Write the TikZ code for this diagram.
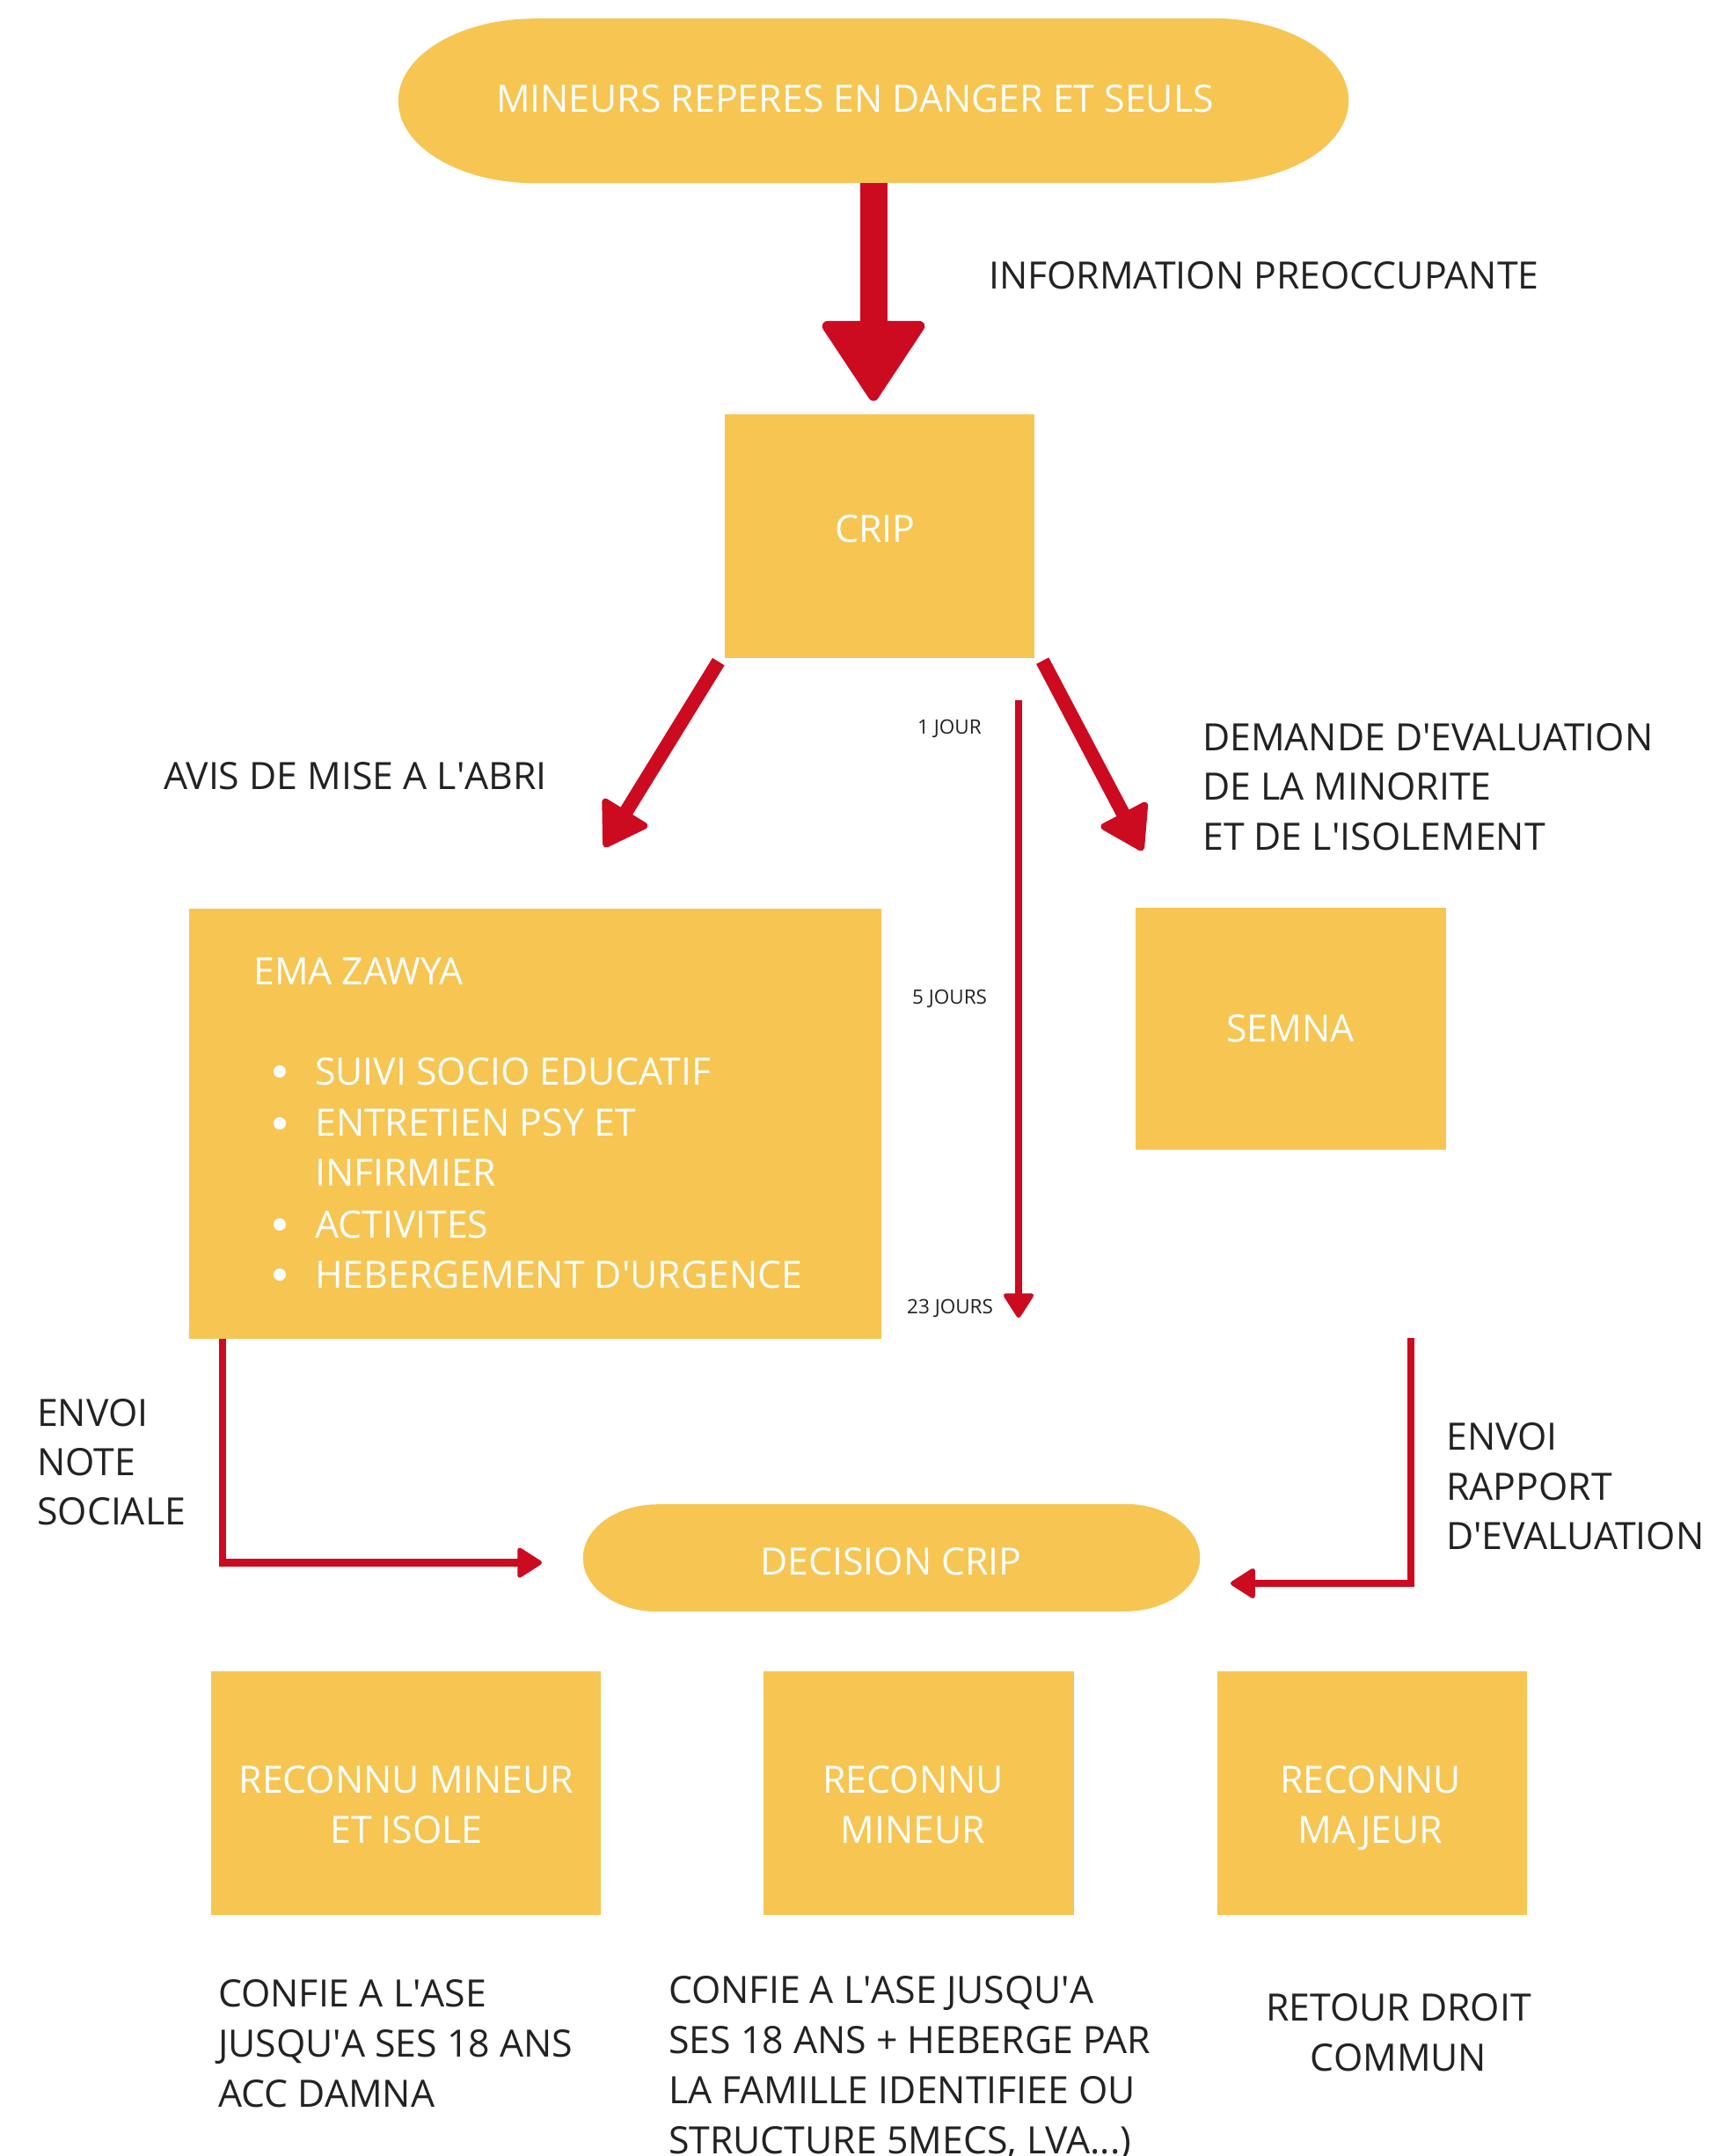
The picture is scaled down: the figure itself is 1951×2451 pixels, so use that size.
\documentclass[tikz,border=0pt]{standalone}
\usepackage{fontspec}
\setmainfont{Open Sans}
\usetikzlibrary{arrows.meta,calc}
\definecolor{yel}{HTML}{F6C552}
\definecolor{rd}{HTML}{CC0A20}
\definecolor{txt}{HTML}{222222}
\newcommand\apos{\textquotesingle}
\newcommand\stadfill[3]{% name, x radius, y radius
  \fill[yel] ([xshift=#2pt]#1.north west) -- ([xshift=-#2pt]#1.north east)
    arc[start angle=90,end angle=-90,x radius=#2pt,y radius=#3pt]
    -- ([xshift=#2pt]#1.south west)
    arc[start angle=270,end angle=90,x radius=#2pt,y radius=#3pt] -- cycle;}
\begin{document}
\begin{tikzpicture}[x=1pt,y=1pt,
  box/.style={fill=yel,draw=none,inner sep=0pt},
  stad/.style={draw=none,inner sep=0pt},
  wt/.style={text=white,font=\fontsize{42.8}{50}\selectfont,inner sep=0pt},
  dk/.style={text=txt,font=\fontsize{42.8}{50}\selectfont,inner sep=0pt},
  sm/.style={text=txt,font=\fontsize{22.5}{27}\selectfont,inner sep=0pt},
  bul/.style={circle,fill=white,draw=none,inner sep=0pt,minimum size=14pt},
  bigarrow/.style={draw=rd,line width=31pt,-{Triangle[length=96pt,width=124pt,round,line width=12pt]}},
  medarrow/.style={draw=rd,line width=16pt,-{Triangle[length=52pt,width=64pt,round,line width=8pt]}},
  thinarrow/.style={draw=rd,line width=8.5pt,-{Triangle[length=30pt,width=37pt,round,line width=5pt]}}
]
\useasboundingbox (0,0) rectangle (1951,-2451);
\fill[white] (0,0) rectangle (1951,-2451);

% ---- shapes
\node[stad,minimum width=1080pt,minimum height=187pt] (mineurs) at (993,-114.5) {};
\stadfill{mineurs}{155}{93.5}
\node[box,minimum width=352pt,minimum height=277pt] (crip) at (1000,-609.5) {};
\node[box,minimum width=787pt,minimum height=489pt] (ema) at (608.5,-1277.5) {};
\node[box,minimum width=353pt,minimum height=275pt] (semna) at (1467.5,-1169.5) {};
\node[stad,minimum width=701pt,minimum height=122pt] (decision) at (1013.5,-1771) {};
\stadfill{decision}{85}{61}
\node[box,minimum width=443pt,minimum height=277pt] (b1) at (461.5,-2038.5) {};
\node[box,minimum width=353pt,minimum height=277pt] (b2) at (1044.5,-2038.5) {};
\node[box,minimum width=352pt,minimum height=277pt] (b3) at (1560,-2038.5) {};

% ---- texts
\node[wt,anchor=base] (tmineurs) at (972,-128) {MINEURS REPERES EN DANGER ET SEULS};
\node[dk,anchor=base west] (tinfo) at (1124,-328) {INFORMATION PREOCCUPANTE};
\node[wt,anchor=base] (tcrip) at (995,-616) {CRIP};
\node[dk,anchor=base west] (tavis) at (186,-897) {AVIS DE MISE A L\apos ABRI};
\node[dk,anchor=base west] (tdem1) at (1367,-853) {DEMANDE D\apos EVALUATION};
\node[dk,anchor=base west] (tdem2) at (1367,-909) {DE LA MINORITE};
\node[dk,anchor=base west] (tdem3) at (1367,-966) {ET DE L\apos ISOLEMENT};
\node[sm,anchor=base west] (tj1) at (1043,-834) {1 JOUR};
\node[sm,anchor=base west] (tj5) at (1037,-1141) {5 JOURS};
\node[sm,anchor=base west] (tj23) at (1031,-1493) {23 JOURS};

\node[wt,anchor=base west] (tema) at (288,-1119) {EMA ZAWYA};
\node[bul] (bu1) at (318,-1218) {};
\node[bul] (bu2) at (318,-1277) {};
\node[bul] (bu3) at (318,-1392) {};
\node[bul] (bu4) at (318,-1449) {};
\node[wt,anchor=base west] (li1) at (358,-1233) {SUIVI SOCIO EDUCATIF};
\node[wt,anchor=base west] (li2) at (358,-1291) {ENTRETIEN PSY ET};
\node[wt,anchor=base west] (li2b) at (358,-1348) {INFIRMIER};
\node[wt,anchor=base west] (li3) at (358,-1407) {ACTIVITES};
\node[wt,anchor=base west] (li4) at (358,-1464) {HEBERGEMENT D\apos URGENCE};

\node[wt,anchor=base] (tsemna) at (1467,-1184) {SEMNA};

\node[dk,anchor=base west] (ten1) at (42,-1621) {ENVOI};
\node[dk,anchor=base west] (ten2) at (42,-1677) {NOTE};
\node[dk,anchor=base west] (ten3) at (42,-1733) {SOCIALE};
\node[dk,anchor=base west] (ter1) at (1644,-1648) {ENVOI};
\node[dk,anchor=base west] (ter2) at (1644,-1705) {RAPPORT};
\node[dk,anchor=base west] (ter3) at (1644,-1761) {D\apos EVALUATION};

\node[wt,anchor=base] (tdec) at (1013,-1790) {DECISION CRIP};

\node[wt,anchor=base] (tb1a) at (462,-2038) {RECONNU MINEUR};
\node[wt,anchor=base] (tb1b) at (462,-2095) {ET ISOLE};
\node[wt,anchor=base] (tb2a) at (1038,-2038) {RECONNU};
\node[wt,anchor=base] (tb2b) at (1038,-2095) {MINEUR};
\node[wt,anchor=base] (tb3a) at (1558,-2038) {RECONNU};
\node[wt,anchor=base] (tb3b) at (1558,-2095) {MAJEUR};

\node[dk,anchor=base west] (tc1) at (248,-2281) {CONFIE A L\apos ASE};
\node[dk,anchor=base west] (tc2) at (248,-2338) {JUSQU\apos A SES 18 ANS};
\node[dk,anchor=base west] (tc3) at (248,-2395) {ACC DAMNA};
\node[dk,anchor=base west] (tm1) at (760,-2277) {CONFIE A L\apos ASE JUSQU\apos A};
\node[dk,anchor=base west] (tm2) at (760,-2334) {SES 18 ANS + HEBERGE PAR};
\node[dk,anchor=base west] (tm3) at (760,-2391) {LA FAMILLE IDENTIFIEE OU};
\node[dk,anchor=base west] (tm4) at (760,-2448) {STRUCTURE 5MECS, LVA...)};
\node[dk,anchor=base] (tr1) at (1590,-2297) {RETOUR DROIT};
\node[dk,anchor=base] (tr2) at (1590,-2354) {COMMUN};

% ---- connectors
\draw[bigarrow,shorten >=15pt] (mineurs.south) -- (mineurs.south |- crip.north);

\coordinate (dlend) at (687,-963);
\coordinate (drend) at (1299,-967);
\draw[medarrow] ([shift={(-7pt,-4pt)}]crip.south west) -- (dlend);
\draw[medarrow] ([shift={(9pt,-3pt)}]crip.south east) -- (drend);

\coordinate (jtop) at (1158,-796);
\coordinate (jend) at (1158,-1498);
\draw[thinarrow] (jtop) -- (jend);

\coordinate (lend) at (616,-1776.5);
\draw[thinarrow] ([xshift=38pt]ema.south west) |- (lend);

\coordinate (rtop) at (1604,-1521);
\coordinate (rend) at (1399,-1800);
\draw[thinarrow] (rtop) |- (rend);
\end{tikzpicture}
\end{document}
